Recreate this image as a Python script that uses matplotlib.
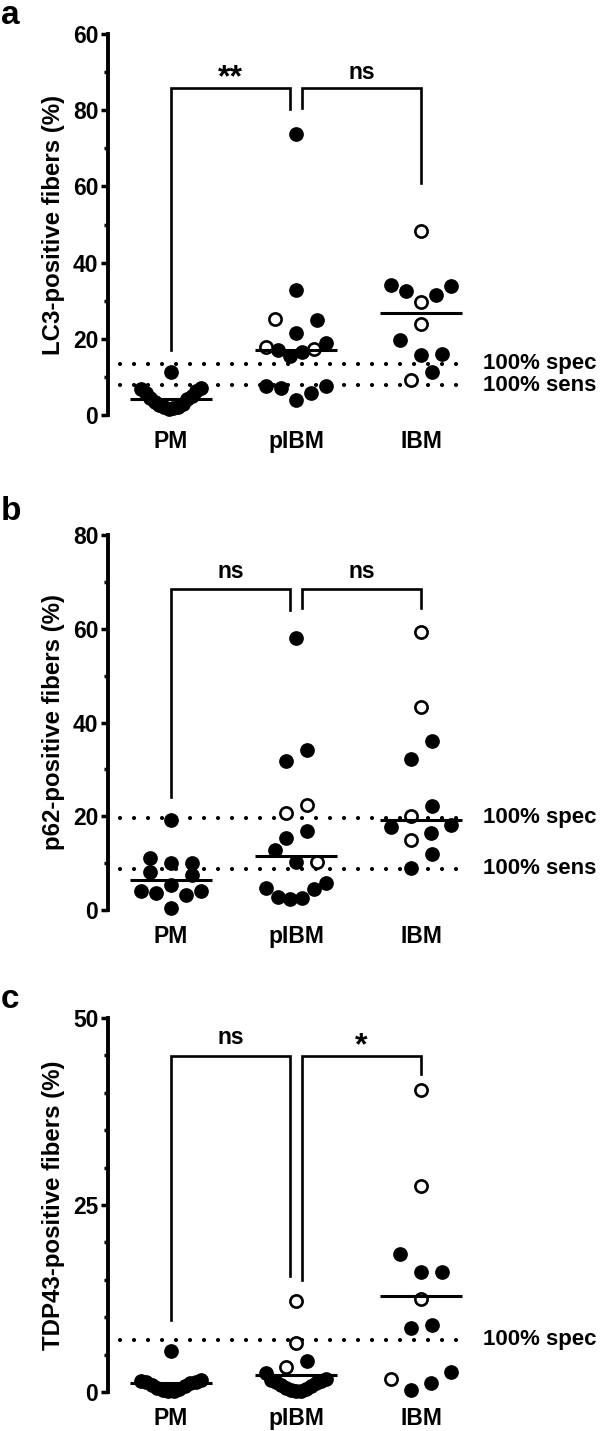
import numpy as np
import matplotlib.pyplot as plt

plt.rcParams['font.family'] = ['Liberation Sans', 'DejaVu Sans']
plt.rcParams['font.weight'] = 'bold'
plt.rcParams['axes.labelweight'] = 'bold'

groups = ['PM', 'pIBM', 'IBM']

# a: LC3-positive fibers (%), filled and open symbols per group
lc3_filled = [
    [1.6, 1.8, 2.0, 2.2, 2.6, 3.0, 3.5, 4.2, 4.5, 5.0, 5.9, 6.2, 6.8, 7.0, 11.3],
    [3.9, 5.7, 7.0, 7.6, 7.6, 15.4, 16.6, 17.0, 18.8, 21.5, 24.9, 32.9, 73.7],
    [11.3, 15.7, 16.0, 19.6, 31.4, 32.5, 33.8, 34.0],
]
lc3_open = [[], [17.3, 17.9, 25.3], [9.3, 23.8, 29.7, 48.4]]
lc3_spec, lc3_sens = 13.5, 7.8

# b: p62-positive fibers (%)
p62_filled = [
    [0.5, 3.2, 3.7, 4.1, 4.1, 5.4, 7.5, 8.2, 10.0, 10.1, 11.0, 19.2],
    [2.4, 2.6, 2.8, 4.4, 4.6, 5.8, 10.3, 12.8, 15.3, 16.9, 31.8, 34.2, 58.0],
    [9.0, 12.0, 16.4, 17.8, 18.2, 22.2, 32.2, 36.0],
]
p62_open = [[], [10.3, 20.8, 22.4], [15.0, 20.1, 43.3, 59.3]]
p62_spec, p62_sens = 19.7, 8.8

# c: TDP43-positive fibers (%)
tdp_filled = [
    [0.1, 0.2, 0.3, 0.4, 0.6, 0.8, 1.0, 1.2, 1.3, 1.4, 1.5, 1.6, 5.5],
    [0.1, 0.2, 0.3, 0.4, 0.6, 0.8, 1.0, 1.2, 1.3, 1.5, 1.6, 1.8, 2.6, 4.2],
    [0.3, 1.2, 2.7, 8.5, 9.0, 16.0, 16.0, 18.5],
]
tdp_open = [[], [3.4, 6.5, 12.1], [1.8, 12.4, 27.5, 40.4]]
tdp_spec = 7.0

W, H = 600, 1431
fig = plt.figure(figsize=(W / 100, H / 100), dpi=100)
x_lim = ((108 - 171) / 125, (470 - 171) / 125)
tick_font = ['Liberation Sans Narrow', 'Liberation Sans', 'DejaVu Sans']


def make_axes(top, bottom, ymax, major, labels, minor):
    ax = fig.add_axes([108 / W, 1 - bottom / H, 362 / W, (bottom - top) / H])
    ax.set_xlim(*x_lim)
    ax.set_ylim(0, ymax)
    ax.patch.set_alpha(0)
    for s in ['top', 'right', 'bottom']:
        ax.spines[s].set_visible(False)
    ax.spines['left'].set_linewidth(2.8)
    ax.set_yticks(major, labels if labels else [str(m) for m in major],
                  family=tick_font, fontsize=16.5)
    ax.set_yticks(minor, minor=True)
    ax.tick_params(axis='y', which='major', length=5, width=2.5, pad=2)
    ax.tick_params(axis='y', which='minor', length=3, width=2.5)
    ax.set_xticks(range(3), groups)
    ax.tick_params(axis='x', length=0, labelsize=16.5, pad=11)
    return ax


def swarm(ax, pos, vals, row_px=21, step_px=21, width_px=60):
    # rows of close values, spread centre-out, lowest value in the middle
    x0, y0 = ax.transData.transform((0, 0))
    x1, y1 = ax.transData.transform((1, 1))
    sx, sy = x1 - x0, y1 - y0
    order = np.argsort(vals, kind='stable')
    rows = []
    for i in order:
        if rows and (vals[i] - vals[rows[-1][0]]) * sy <= row_px:
            rows[-1].append(i)
        else:
            rows.append([i])
    xs = np.full(len(vals), float(pos))
    for row in rows:
        n = len(row)
        step = step_px if n < 3 else min(step_px, width_px / (n - 1))
        for k, i in enumerate(row):
            if n % 2:
                slot = ((k + 1) // 2) * (1 if k % 2 else -1)
            else:
                slot = (k // 2 + 0.5) * (-1 if k % 2 == 0 else 1)
            xs[i] = pos + slot * step / sx
    return xs


def draw_groups(ax, filled, opened, stat):
    for pos in range(3):
        vals = np.array(filled[pos] + opened[pos], float)
        is_open = np.array([False] * len(filled[pos]) + [True] * len(opened[pos]))
        xs = swarm(ax, pos, vals)
        ax.plot(xs[~is_open], vals[~is_open], 'o', ms=10.6, color='black', mew=0,
                clip_on=False, zorder=3)
        ax.plot(xs[is_open], vals[is_open], 'o', ms=8.8, mfc='white', mec='black',
                mew=1.9, clip_on=False, zorder=3)
        ax.plot([pos - 0.33, pos + 0.33], [stat(vals)] * 2, color='black', lw=2.2,
                solid_capstyle='butt', zorder=4)


def cutoff(ax, y, text):
    ax.plot([-0.408, 2.368], [y, y], color='black', lw=3.0, linestyle=(0, (0.01, 3.35)),
            dash_capstyle='round', clip_on=False, zorder=1)
    ax.text(2.496, y, text, va='center', ha='left', fontsize=16, clip_on=False)


def bracket(ax, xa, xb, top, ya, yb, text, ty, size=16.5):
    ax.plot([xa, xa, xb, xb], [ya, top, top, yb], color='black', lw=1.9,
            solid_joinstyle='miter', clip_on=False, zorder=2)
    ax.text((xa + xb) / 2, ty, text, ha='center', va='center', fontsize=size)


# panel a
ax = make_axes(34, 415, 100, range(0, 101, 20), ['0', '20', '40', '60', '80', '60'],
               range(10, 100, 20))
cutoff(ax, lc3_spec, '100% spec')
cutoff(ax, lc3_sens, '100% sens')
draw_groups(ax, lc3_filled, lc3_open, np.median)
bracket(ax, 0, 0.95, 85.8, 17, 80.4, '**', 88.5, 23)
bracket(ax, 1.05, 2, 85.8, 80.6, 60.8, 'ns', 89.8)
ax.set_ylabel('LC3-positive fibers (%)', fontsize=17.3)
ax.yaxis.set_label_coords(-0.118, 0.5)

# panel b
ax = make_axes(535, 910, 80, range(0, 81, 20), None, range(10, 80, 20))
cutoff(ax, p62_spec, '100% spec')
cutoff(ax, p62_sens, '100% sens')
draw_groups(ax, p62_filled, p62_open, np.median)
bracket(ax, 0, 0.95, 68.5, 24.2, 64.1, 'ns', 72.3)
bracket(ax, 1.05, 2, 68.5, 64.4, 64.5, 'ns', 72.3)
ax.set_ylabel('p62-positive fibers (%)', fontsize=17.3)
ax.yaxis.set_label_coords(-0.118, 0.5)

# panel c
ax = make_axes(1018, 1392, 50, [0, 25, 50], None, [5, 10, 15, 20, 30, 35, 40, 45])
cutoff(ax, tdp_spec, '100% spec')
draw_groups(ax, tdp_filled, tdp_open, np.mean)
bracket(ax, 0, 0.95, 44.9, 9.65, 15.5, 'ns', 47.4)
bracket(ax, 1.05, 2, 44.9, 15.0, 42.5, '*', 46.2, 23)
ax.set_ylabel('TDP43-positive fibers (%)', fontsize=17.3)
ax.yaxis.set_label_coords(-0.118, 0.5)

for letter, base in [('a', 24), ('b', 520), ('c', 1008)]:
    fig.text(1 / W, 1 - base / H, letter, fontsize=24, va='baseline', ha='left')

fig.savefig('out.png', dpi=100)
